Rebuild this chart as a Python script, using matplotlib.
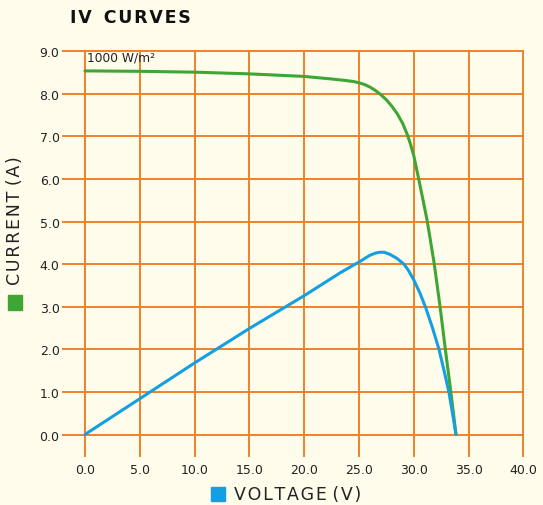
import matplotlib
matplotlib.use("Agg")
import matplotlib.pyplot as plt
from matplotlib.patches import Rectangle

# ---- data ----
x_ticks = [0, 5, 10, 15, 20, 25, 30, 35, 40]
y_ticks = [0, 1, 2, 3, 4, 5, 6, 7, 8, 9]
x_tick_labels = ["0.0", "5.0", "10.0", "15.0", "20.0", "25.0", "30.0", "35.0", "40.0"]
y_tick_labels = ["0.0", "1.0", "2.0", "3.0", "4.0", "5.0", "6.0", "7.0", "8.0", "9.0"]

iv_voltage = [0, 5, 10, 15, 20, 22.5, 23.75, 24.5, 25.0, 25.5, 26.0, 26.5, 27.0,
              27.5, 28.0, 28.5, 29.0, 29.4, 29.7, 30.0, 30.45, 30.85, 31.2, 31.5,
              31.87, 32.4, 32.88, 33.38, 33.85]
iv_current = [8.54, 8.53, 8.51, 8.47, 8.41, 8.35, 8.315, 8.29, 8.26, 8.22, 8.16,
              8.08, 7.98, 7.86, 7.71, 7.53, 7.30, 7.05, 6.82, 6.55, 6.0, 5.5, 5.05,
              4.59, 4.0, 3.0, 2.0, 1.0, 0.0]

pw_voltage = [0, 5, 10, 15, 20, 23.3, 24.65, 25.0, 25.5, 26.0, 26.5, 26.9, 27.3,
              27.83, 28.5, 29.1, 29.5, 30.0, 30.55, 31.1, 31.7, 32.3, 32.77, 33.2,
              33.5, 33.85]
pw_value = [0, 0.84, 1.68, 2.49, 3.26, 3.80, 4.00, 4.05, 4.13, 4.21, 4.26, 4.28,
            4.28, 4.23, 4.13, 4.00, 3.86, 3.63, 3.33, 2.97, 2.51, 2.00, 1.49, 1.00,
            0.55, 0.0]

irradiance_label = "1000 W/m²"

# ---- style ----
BG = "#FFFCEB"
GRID = "#F0802A"
GREEN = "#3FA535"
BLUE = "#14A0E0"
TXT = "#222222"
HS = "\u200a"

def spaced(s):
    return HS.join(list(s))

W, H = 543, 506
fig = plt.figure(figsize=(W / 100, H / 100), dpi=100, facecolor=BG)
ax = fig.add_axes([63 / W, 1 - 456.8 / H, (523.4 - 63) / W, (456.8 - 52.3) / H])
ax.set_facecolor(BG)
ax.set_xlim(-2, 40)
ax.set_ylim(-0.5, 9)
for s in ax.spines.values():
    s.set_visible(False)

for y in y_ticks:
    ax.plot([-2, 40], [y, y], color=GRID, lw=1.4, clip_on=False, zorder=1)
for x in x_ticks:
    ax.plot([x, x], [-0.5, 9], color=GRID, lw=1.4, clip_on=False, zorder=1)

ax.plot(iv_voltage, iv_current, color=GREEN, lw=2.2, zorder=3,
        solid_capstyle="round", solid_joinstyle="round")
ax.plot(pw_voltage, pw_value, color=BLUE, lw=2.2, zorder=3,
        solid_capstyle="round", solid_joinstyle="round")

ax.set_xticks(x_ticks)
ax.set_xticklabels(x_tick_labels)
ax.set_yticks(y_ticks)
ax.set_yticklabels(y_tick_labels)
ax.tick_params(axis="both", length=0, labelsize=9, colors=TXT)
ax.tick_params(axis="x", pad=5)
ax.tick_params(axis="y", pad=2.5)

ax.text(0.15, 8.72, irradiance_label, fontsize=8.8, color=TXT, va="bottom", ha="left")

fig.text(70 / W, 1 - 18 / H, spaced("IV") + "  " + spaced("CURVES"),
         fontsize=12.5, fontweight="bold", color="#111111", ha="left", va="center")

# y label with green square
fig.text(15 / W, 1 - 221 / H, spaced("CURRENT") + " " + spaced("(A)"),
         fontsize=12.5, color=TXT, rotation=90, ha="center", va="center")
fig.patches.append(Rectangle((8 / W, 1 - 311 / H), 14 / W, 15 / H,
                             transform=fig.transFigure, color=GREEN))

# x label with blue square
fig.text(234 / W, 1 - 495 / H, spaced("VOLTAGE") + " " + spaced("(V)"),
         fontsize=12.5, color=TXT, ha="left", va="center")
fig.patches.append(Rectangle((211 / W, 1 - 502 / H), 14 / W, 14 / H,
                             transform=fig.transFigure, color=BLUE))

fig.savefig("out.png", dpi=100, facecolor=BG)
